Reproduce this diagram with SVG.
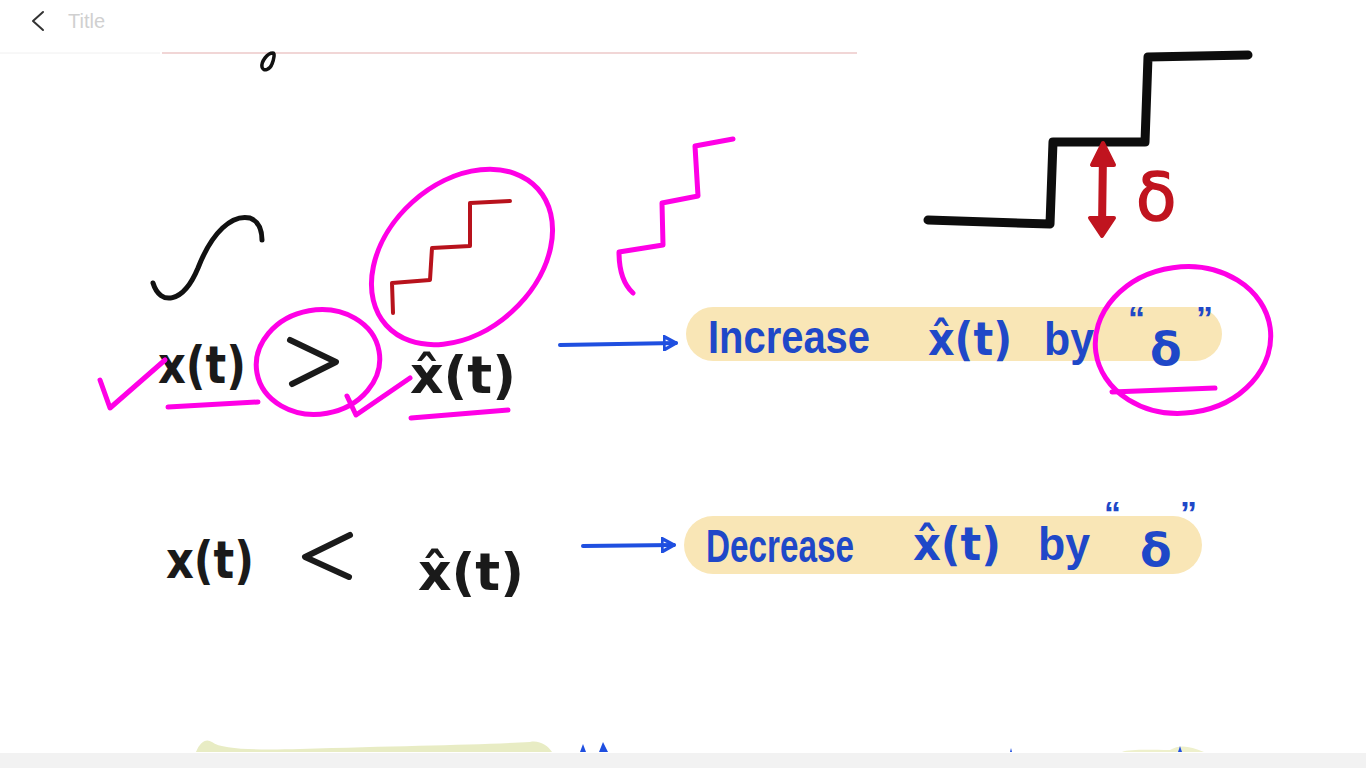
<svg xmlns="http://www.w3.org/2000/svg" width="1366" height="768" viewBox="0 0 1366 768">
<defs>
<style>
.ink{fill:none;stroke-linecap:round;stroke-linejoin:round}
.blk{stroke:#111;stroke-width:5}
.mag{stroke:#ff00e6;stroke-width:5}
.blue{stroke:#1f4fe0;stroke-width:4}
.math{font-family:"DejaVu Sans","Liberation Sans",sans-serif;font-weight:bold;fill:#1a1a1a}
.note{font-family:"Liberation Sans Narrow","Liberation Sans",sans-serif;font-weight:bold;fill:#1f48c8}
.pill{fill:#f9e6b6}
</style>
<marker id="oa" viewBox="0 0 12 12" refX="10" refY="6" markerWidth="4" markerHeight="4" orient="auto" markerUnits="strokeWidth">
<path d="M1,1 L10,6 L1,11 Z" fill="none" stroke="#1f4fe0" stroke-width="2.5" stroke-linejoin="round"/>
</marker>
</defs>
<rect width="1366" height="768" fill="#ffffff"/>
<!-- header -->
<g id="header">
<path d="M43,12 L33,21 L43,30" fill="none" stroke="#333" stroke-width="2" stroke-linecap="round" stroke-linejoin="round"/>
<text x="68" y="28" font-family="Liberation Sans,sans-serif" font-size="20" fill="#d0d0d0">Title</text>
<line x1="0" y1="53" x2="160" y2="53" stroke="#f0f0f0" stroke-width="1"/>
<line x1="162" y1="53" x2="857" y2="53" stroke="#edc8c8" stroke-width="1.5"/>
<path d="M273,53 C267,53 261,62 262,67 C263,72 270,70 272,64 C274,59 275,53 273,53 Z" fill="none" stroke="#111" stroke-width="3.5" stroke-linejoin="round"/>
</g>
<!-- staircase figure -->
<g id="staircase">
<path class="ink" d="M928,220 L1050,224 L1053,142 L1145,142 L1148,57 L1248,55" stroke="#0d0d0d" stroke-width="9"/>
<path class="ink" d="M1103,152 L1102,228" stroke="#c0141f" stroke-width="8"/>
<path d="M1103,143 L1092,165 L1114,165 Z" fill="#c0141f" stroke="#c0141f" stroke-width="4" stroke-linejoin="round"/>
<path d="M1102,236 L1090,218 L1114,218 Z" fill="#c0141f" stroke="#c0141f" stroke-width="4" stroke-linejoin="round"/>
<text x="1136" y="220" font-family="DejaVu Sans,sans-serif" font-size="66" fill="#c0141f" stroke="#c0141f" stroke-width="1.5">δ</text>
</g>
<!-- x(t) curve sketch -->
<g id="curve">
<path class="ink blk" d="M153,283 C160,306 183,304 198,268 C212,232 232,214 250,218 C260,222 262,232 262,240"/>
</g>
<!-- row 1 -->
<g id="row1-lhs">
<text class="math" x="158" y="383" font-size="52" textLength="88" lengthAdjust="spacingAndGlyphs">x(t)</text>
<path class="ink" d="M290,340 L336,362 L292,384" stroke="#1a1a1a" stroke-width="6"/>
<text class="math" x="410" y="393" font-size="52" textLength="106" lengthAdjust="spacingAndGlyphs">x̂(t)</text>
</g>
<g id="row1-marks">
<ellipse class="ink mag" cx="318" cy="362" rx="62" ry="52" transform="rotate(-10 318 362)"/>
<ellipse class="ink mag" cx="462" cy="257" rx="102" ry="74" transform="rotate(-42 462 257)"/>
<path class="ink" d="M393,313 L392,283 L430,280 L432,248 L470,246 L470,203 L510,201" stroke="#b8121c" stroke-width="4"/>
<path class="ink mag" d="M100,380 L110,408 L165,360"/>
<path class="ink mag" d="M168,407 L258,402"/>
<path class="ink mag" d="M347,396 L356,415 L410,378"/>
<path class="ink mag" d="M411,418 L508,410"/>
<path class="ink mag" d="M633,293 C622,283 619,268 619,252 L663,245 L662,203 L698,196 L695,146 L733,139"/>
</g>
<g id="row1-result">
<rect class="pill" x="686" y="307" width="536" height="54" rx="27"/>
<text class="note" font-size="46">
<tspan x="708" y="353" textLength="162" lengthAdjust="spacingAndGlyphs">Increase</tspan>
<tspan x="928" y="355" font-family="DejaVu Sans,sans-serif" textLength="84" lengthAdjust="spacingAndGlyphs">x̂(t)</tspan>
<tspan x="1044" y="355" textLength="50" lengthAdjust="spacingAndGlyphs">by</tspan>
<tspan x="1128" y="330" font-size="34">“</tspan><tspan x="1150" y="365" font-family="DejaVu Sans,sans-serif">δ</tspan><tspan x="1196" y="330" font-size="34">”</tspan>
</text>
<ellipse class="ink mag" cx="1183" cy="340" rx="88" ry="73" transform="rotate(-8 1183 340)"/>
<path class="ink mag" d="M1112,392 L1215,388"/>
</g>
<!-- row 2 -->
<g id="row2-lhs">
<text class="math" x="166" y="578" font-size="52" textLength="88" lengthAdjust="spacingAndGlyphs">x(t)</text>
<path class="ink" d="M350,535 L305,557 L349,577" stroke="#1a1a1a" stroke-width="6"/>
<text class="math" x="418" y="590" font-size="52" textLength="106" lengthAdjust="spacingAndGlyphs">x̂(t)</text>
</g>
<g id="row2-result">
<rect class="pill" x="684" y="516" width="518" height="58" rx="29"/>
<text class="note" font-size="46">
<tspan x="706" y="562" textLength="148" lengthAdjust="spacingAndGlyphs">Decrease</tspan>
<tspan x="913" y="560" font-family="DejaVu Sans,sans-serif" textLength="88" lengthAdjust="spacingAndGlyphs">x̂(t)</tspan>
<tspan x="1038" y="560" textLength="52" lengthAdjust="spacingAndGlyphs">by</tspan>
<tspan x="1104" y="525" font-size="34">“</tspan><tspan x="1140" y="566" font-family="DejaVu Sans,sans-serif">δ</tspan><tspan x="1180" y="525" font-size="34">”</tspan>
</text>
</g>
<!-- connectors -->
<g id="connectors">
<path class="ink blue" d="M560,345 L676,343" marker-end="url(#oa)"/>
<path class="ink blue" d="M583,546 L674,545" marker-end="url(#oa)"/>
</g>
<!-- bottom partial -->
<g id="bottom">
<path d="M196,752 C200,742 206,738 212,742 C222,750 260,750 300,749 C400,746 480,745 530,742 C540,740 548,746 552,752 Z" fill="#e8ecc4"/>
<path d="M1122,752 C1130,749 1150,750 1170,750 C1180,744 1190,746 1204,752 Z" fill="#eef0cc"/>
<path d="M580,752 L583,744 L586,752 Z M599,752 L603,742 L608,752 Z M1010,752 L1011,748 L1012,752 Z M1178,752 L1180,746 L1182,752 Z" fill="#1f4fe0"/>
<rect x="0" y="753" width="1366" height="15" fill="#f2f2f2"/>
</g>
</svg>
